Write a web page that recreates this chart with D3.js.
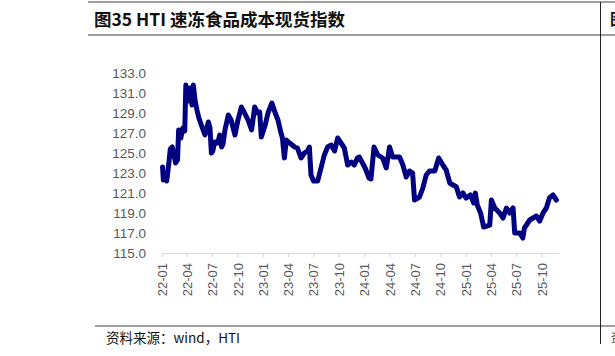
<!DOCTYPE html>
<html>
<head>
<meta charset="utf-8">
<script src="https://cdn.jsdelivr.net/npm/d3@7"></script>
<style>
  html, body { margin: 0; padding: 0; background: #fff; }
  svg { display: block; }
</style>
</head>
<body>
<svg id="chart" width="615" height="356"></svg>
<script>
const titleText = "图35 HTI 速冻食品成本现货指数";
const sourceText = "资料来源：wind，HTI";
const seriesName = "HTI速冻食品成本现货指数";

const dates = [
"2022-01-04","2022-01-07","2022-01-12","2022-01-19","2022-01-26","2022-02-01","2022-02-08","2022-02-13","2022-02-20","2022-02-27",
"2022-03-03","2022-03-11","2022-03-18","2022-03-25","2022-03-29","2022-04-06","2022-04-13","2022-04-20","2022-04-25","2022-05-01",
"2022-05-08","2022-05-15","2022-05-25","2022-06-06","2022-06-18","2022-06-24","2022-06-29","2022-07-04","2022-07-11","2022-07-22",
"2022-07-29","2022-08-05","2022-08-10","2022-08-17","2022-08-29","2022-09-08","2022-09-22","2022-10-02","2022-10-15","2022-10-23",
"2022-11-08","2022-11-21","2022-12-02","2022-12-13","2022-12-20","2022-12-26",
"2023-01-09","2023-01-19","2023-02-02","2023-02-14","2023-02-24","2023-03-05","2023-03-12","2023-03-19","2023-03-26","2023-04-07",
"2023-04-25","2023-05-05","2023-05-18","2023-05-30","2023-06-10","2023-06-17","2023-06-23","2023-07-02","2023-07-17","2023-07-29",
"2023-08-10","2023-08-22","2023-09-04","2023-09-16","2023-09-27","2023-10-09","2023-10-21","2023-11-02","2023-11-16","2023-11-26",
"2023-12-07","2023-12-14",
"2024-01-04","2024-01-18","2024-01-25","2024-02-05","2024-02-19","2024-03-07","2024-03-20","2024-04-01","2024-04-12","2024-05-07",
"2024-05-19","2024-05-31","2024-06-12","2024-06-23","2024-06-30","2024-07-18","2024-07-30","2024-08-11","2024-08-23","2024-09-11",
"2024-09-25","2024-10-10","2024-10-22","2024-11-04","2024-11-28","2024-12-09","2024-12-21","2025-01-02",
"2025-01-17","2025-01-29","2025-02-04","2025-02-11","2025-02-23","2025-03-06","2025-03-17","2025-03-28","2025-04-03","2025-04-15",
"2025-05-03","2025-05-15","2025-05-27","2025-06-08","2025-06-20","2025-06-26","2025-07-14","2025-07-25","2025-07-31","2025-08-19",
"2025-09-12","2025-09-24","2025-10-06","2025-10-18","2025-10-29","2025-11-11","2025-11-23"
];

const values = [
123.6,122.3,122.6,122.2,123.8,125.4,125.6,125.0,124.0,124.3,
127.3,126.5,127.5,127.2,131.8,130.2,131.5,129.8,131.8,130.3,
129.3,128.5,127.7,126.8,128.1,127.5,125.0,125.2,126.1,126.0,
126.8,125.6,125.9,127.3,128.8,128.3,126.8,128.2,129.6,129.2,
128.3,127.3,129.6,129.0,129.1,126.6,
127.8,129.0,130.0,129.0,128.3,127.2,126.5,124.5,126.3,126.0,
125.6,125.5,124.5,125.0,125.2,125.6,122.8,122.2,122.2,123.5,
124.8,125.6,125.8,125.2,126.5,126.0,125.5,123.8,124.1,123.8,
124.5,124.6,
123.5,122.5,122.4,125.6,124.8,124.5,123.5,125.6,124.6,124.6,
123.8,122.6,123.2,123.0,120.3,120.6,121.5,122.8,123.2,123.2,
124.5,123.8,123.3,122.0,121.6,120.6,121.0,120.5,
120.8,120.0,121.0,119.8,119.0,117.6,117.7,117.8,120.3,119.5,
119.0,118.5,119.5,119.0,119.5,117.0,117.0,116.5,117.5,118.3,
118.7,118.2,119.0,119.5,120.5,120.8,120.3
];

const yTicks = [115,117,119,121,123,125,127,129,131,133];
const xTickLabels = ["22-01","22-04","22-07","22-10","23-01","23-04","23-07","23-10","24-01","24-04","24-07","24-10","25-01","25-04","25-07","25-10"];
const xDomain = ["2022-01-01","2025-11-30"];

const parse = d3.timeParse("%Y-%m-%d");
const data = dates.map((d, i) => ({ date: parse(d), value: values[i] }));

const svg = d3.select("#chart");
svg.append("rect").attr("width", 615).attr("height", 356).attr("fill", "#fff");

// frame lines
svg.append("line").attr("x1", 88).attr("x2", 615).attr("y1", 2).attr("y2", 2)
  .attr("stroke", "#7f7f7f").attr("stroke-width", 1.5);
svg.append("line").attr("x1", 88).attr("x2", 615).attr("y1", 35).attr("y2", 35)
  .attr("stroke", "#7f7f7f").attr("stroke-width", 1.5);
svg.append("line").attr("x1", 95).attr("x2", 615).attr("y1", 326).attr("y2", 326)
  .attr("stroke", "#7f7f7f").attr("stroke-width", 1.5);
svg.append("line").attr("x1", 600.5).attr("x2", 600.5).attr("y1", 2).attr("y2", 344)
  .attr("stroke", "#222").attr("stroke-width", 1);

svg.append("text").attr("x", 94).attr("y", 26)
  .attr("font-family", "'Noto Sans CJK SC', sans-serif").attr("font-weight", "bold")
  .attr("font-size", 17.5).attr("fill", "#111").text(titleText);
svg.append("text").attr("x", 610).attr("y", 25)
  .attr("font-family", "'Noto Sans CJK SC', sans-serif").attr("font-weight", "bold")
  .attr("font-size", 16).attr("fill", "#111").text("图");
svg.append("text").attr("x", 611).attr("y", 342)
  .attr("font-family", "'Noto Sans CJK SC', sans-serif")
  .attr("font-size", 11).attr("fill", "#333").text("资");

svg.append("text").attr("x", 106).attr("y", 343)
  .attr("font-family", "'Noto Sans CJK SC', sans-serif")
  .attr("font-size", 13.5).attr("fill", "#111").text(sourceText);

const x = d3.scaleTime().domain(xDomain.map(parse)).range([161.7, 558.3]);
const y = d3.scaleLinear().domain([115, 133]).range([253, 73]);

// x axis
const xTickDates = xTickLabels.map(s => parse("20" + s + "-01"));
const xAxis = d3.axisBottom(x).tickValues(xTickDates)
  .tickFormat(d3.timeFormat("%y-%m")).tickSize(4).tickSizeOuter(0);
const gx = svg.append("g").attr("transform", "translate(0,253)").call(xAxis);
gx.select(".domain").attr("stroke", "#d9d9d9").attr("stroke-width", 1.2);
gx.selectAll(".tick line").attr("stroke", "#d9d9d9").attr("stroke-width", 1.2);
gx.selectAll(".tick text")
  .attr("font-family", "'Liberation Sans', Arial, sans-serif")
  .attr("font-size", 13).attr("fill", "#595959")
  .attr("text-anchor", "end")
  .attr("transform", "rotate(-90)")
  .attr("x", -10).attr("y", 0).attr("dy", "0.35em");

// y axis (labels only)
const yAxis = d3.axisLeft(y).tickValues(yTicks).tickFormat(d3.format(".1f")).tickSize(0).tickPadding(0);
const gy = svg.append("g").attr("transform", "translate(146,0)").call(yAxis);
gy.select(".domain").remove();
gy.selectAll(".tick text")
  .attr("font-family", "'Liberation Sans', Arial, sans-serif")
  .attr("font-size", 13.5).attr("fill", "#595959");

// line
const line = d3.line().x(d => x(d.date)).y(d => y(d.value));
svg.append("path").datum(data)
  .attr("d", line)
  .attr("fill", "none")
  .attr("stroke", "#000080")
  .attr("stroke-width", 5)
  .attr("stroke-linejoin", "round")
  .attr("stroke-linecap", "round")
  .attr("aria-label", seriesName);
</script>
</body>
</html>
